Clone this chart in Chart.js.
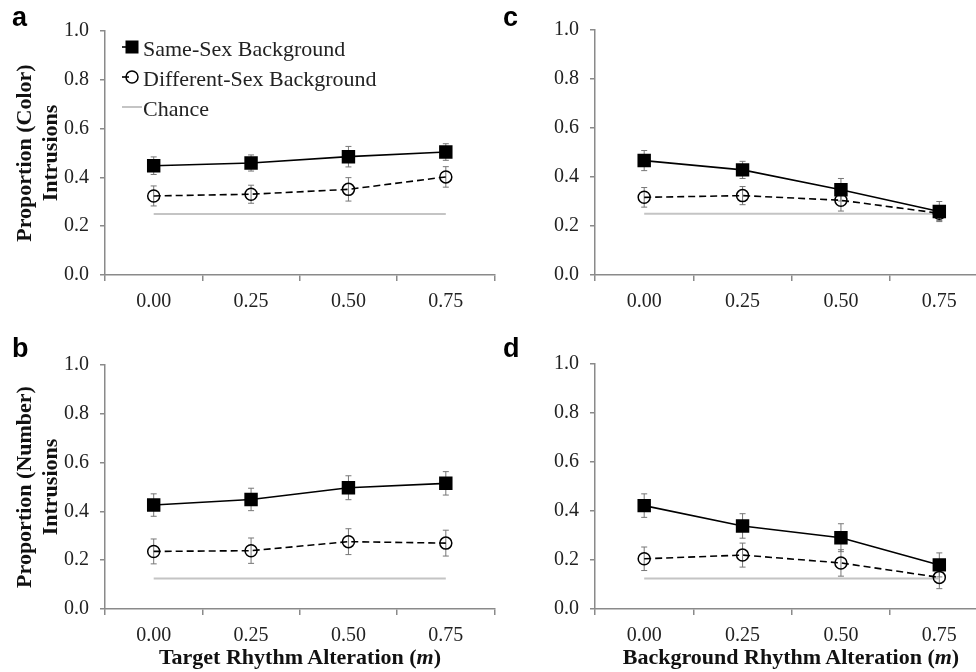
<!DOCTYPE html>
<html>
<head>
<meta charset="utf-8">
<script src="https://cdn.jsdelivr.net/npm/chart.js@4.4.1/dist/chart.umd.min.js"></script>
<style>
  html, body { margin:0; padding:0; background:#fff; }
  body { width:976px; height:672px; position:relative; overflow:hidden; }
  canvas { position:absolute; }
  .tag { position:absolute; font:bold 27px "Liberation Sans", Arial, sans-serif; line-height:27px; color:#000; }
  .xt { position:absolute; width:500px; text-align:center; font:bold 22px "Liberation Serif", "Times New Roman", serif; line-height:22px; color:#111; }
</style>
</head>
<body>
<canvas id="ca" width="504" height="320" style="left:0;top:0"></canvas>
<canvas id="cc" width="510" height="320" style="left:488px;top:0"></canvas>
<canvas id="cb" width="504" height="362" style="left:0;top:310px"></canvas>
<canvas id="cd" width="510" height="362" style="left:488px;top:310px"></canvas>

<div class="tag" style="left:12px;top:4px">a</div>
<div class="tag" style="left:12px;top:335px">b</div>
<div class="tag" style="left:503px;top:4px">c</div>
<div class="tag" style="left:503px;top:335px">d</div>
<div class="xt" style="left:50px;top:646px">Target Rhythm Alteration (<i>m</i>)</div>
<div class="xt" style="left:541px;top:646px">Background Rhythm Alteration (<i>m</i>)</div>

<script>
const categories = ["0.00", "0.25", "0.50", "0.75"];

// panel a: colour intrusions vs target rhythm
const sameA = [0.448, 0.459, 0.485, 0.504];
const sameAErr = [0.036, 0.033, 0.042, 0.034];
const diffA = [0.324, 0.331, 0.351, 0.402];
const diffAErr = [0.041, 0.037, 0.048, 0.042];
// panel c: colour intrusions vs background rhythm
const sameC = [0.467, 0.429, 0.348, 0.259];
const sameCErr = [0.041, 0.035, 0.046, 0.041];
const diffC = [0.317, 0.324, 0.305, 0.252];
const diffCErr = [0.040, 0.037, 0.044, 0.030];
// panel b: number intrusions vs target rhythm
const sameB = [0.426, 0.449, 0.497, 0.515];
const sameBErr = [0.046, 0.046, 0.049, 0.048];
const diffB = [0.236, 0.239, 0.276, 0.270];
const diffBErr = [0.051, 0.052, 0.053, 0.053];
// panel d: number intrusions vs background rhythm
const sameD = [0.422, 0.339, 0.291, 0.180];
const sameDErr = [0.048, 0.050, 0.057, 0.049];
const diffD = [0.205, 0.220, 0.188, 0.129];
const diffDErr = [0.048, 0.049, 0.054, 0.046];

const chanceColor = [0.25, 0.25, 0.25, 0.25];
const chanceNumber = [0.125, 0.125, 0.125, 0.125];

const legendLabels = ["Same-Sex Background", "Different-Sex Background", "Chance"];

const SERIF = '"Liberation Serif", "Times New Roman", serif';
const AXIS = "#8a8a8a";
const INK = "#222";

// draws the +/- error whiskers under the markers
const errorBars = {
  id: "errorBars",
  beforeDatasetsDraw(chart){
    const ctx = chart.ctx, y = chart.scales.y;
    chart.data.datasets.forEach((ds, i) => {
      if(!ds.errors) return;
      const meta = chart.getDatasetMeta(i);
      ctx.save();
      ctx.strokeStyle = "#777";
      ctx.lineWidth = 1;
      meta.data.forEach((pt, j) => {
        const v = ds.data[j], e = ds.errors[j];
        const top = y.getPixelForValue(v + e), bot = y.getPixelForValue(v - e);
        ctx.beginPath();
        ctx.moveTo(pt.x, top); ctx.lineTo(pt.x, bot);
        ctx.moveTo(pt.x - 3, top); ctx.lineTo(pt.x + 3, top);
        ctx.moveTo(pt.x - 3, bot); ctx.lineTo(pt.x + 3, bot);
        ctx.stroke();
      });
      ctx.restore();
    });
  }
};

// legend sitting inside the plot of panel a
const innerLegend = {
  id: "innerLegend",
  afterDraw(chart, args, opts){
    if(!opts.show) return;
    const ctx = chart.ctx;
    const x0 = chart.chartArea.left, y0 = chart.chartArea.top;
    chart.data.datasets.forEach((ds, i) => {
      const y = y0 + 16 + i * 30;
      ctx.save();
      ctx.strokeStyle = ds.borderColor;
      ctx.lineWidth = ds.borderWidth;
      ctx.setLineDash(ds.borderDash || []);
      ctx.beginPath();
      ctx.moveTo(x0 + 17, y);
      ctx.lineTo(x0 + (ds.pointRadius ? 27 : 37), y);
      ctx.stroke();
      ctx.setLineDash([]);
      if(ds.pointStyle === "rect"){
        ctx.fillStyle = "#000";
        ctx.fillRect(x0 + 20.5, y - 6.5, 13, 13);
      } else if(ds.pointRadius){
        ctx.lineWidth = 1.5;
        ctx.strokeStyle = "#000";
        ctx.beginPath();
        ctx.arc(x0 + 27, y, 6, 0, Math.PI * 2);
        ctx.stroke();
      }
      ctx.fillStyle = INK;
      ctx.font = "22px " + SERIF;
      ctx.textBaseline = "alphabetic";
      ctx.fillText(legendLabels[i], x0 + 38, y + 9);
      ctx.restore();
    });
  }
};

function makePanel(id, same, sameErr, diff, diffErr, chance, o){
  return new Chart(document.getElementById(id), {
    type: "line",
    data: {
      labels: categories,
      datasets: [{
        data: same, errors: sameErr,
        borderColor: "#000", borderWidth: 1.6,
        pointStyle: "rect", pointRadius: 9.5, pointBackgroundColor: "#000", pointBorderWidth: 0,
        order: 1
      },{
        data: diff, errors: diffErr,
        borderColor: "#000", borderWidth: 1.6, borderDash: [7, 4],
        pointStyle: "circle", pointRadius: 6, pointBackgroundColor: "rgba(0,0,0,0)", pointBorderWidth: 1.5,
        order: 2
      },{
        data: chance,
        borderColor: "#c4c4c4", borderWidth: 2,
        pointRadius: 0,
        order: 3
      }]
    },
    options: {
      responsive: false,
      animation: false,
      devicePixelRatio: 1,
      layout: { padding: { left: 0, right: o.right, top: o.top, bottom: 0 } },
      plugins: {
        legend: { display: false },
        tooltip: { enabled: false },
        innerLegend: { show: !!o.legend }
      },
      scales: {
        x: {
          type: "category",
          offset: true,
          grid: { offset: true, drawOnChartArea: false, drawTicks: true, tickLength: 6, color: AXIS, lineWidth: 1.5 },
          border: { color: AXIS, width: 1.5 },
          ticks: { color: INK, font: { family: SERIF, size: 20 }, padding: 9, maxRotation: 0, autoSkip: false },
          afterFit: s => { s.height = o.xh; }
        },
        y: {
          min: 0, max: 1,
          grid: { drawOnChartArea: false, drawTicks: true, tickLength: 5, color: AXIS, lineWidth: 1.5 },
          border: { color: AXIS, width: 1.5 },
          ticks: { stepSize: 0.2, color: INK, font: { family: SERIF, size: 20 }, padding: 11,
                   callback: v => v.toFixed(1) },
          title: {
            display: !!o.ytitle,
            text: o.ytitle || "",
            color: "#111",
            font: { family: SERIF, size: 22, weight: "bold", lineHeight: 1.2 },
            padding: { top: 12, bottom: 0 }
          },
          afterFit: s => { s.width = o.yw; }
        }
      }
    },
    plugins: [errorBars, innerLegend]
  });
}

makePanel("ca", sameA, sameAErr, diffA, diffAErr, chanceColor,
  { top: 31, right: 2, xh: 45, yw: 105, ytitle: ["Proportion (Color)", "Intrusions"], legend: true });
makePanel("cc", sameC, sameCErr, diffC, diffCErr, chanceColor,
  { top: 30, right: 8, xh: 45, yw: 107 });
makePanel("cb", sameB, sameBErr, diffB, diffBErr, chanceNumber,
  { top: 55, right: 2, xh: 63, yw: 105, ytitle: ["Proportion (Number)", "Intrusions"] });
makePanel("cd", sameD, sameDErr, diffD, diffDErr, chanceNumber,
  { top: 54, right: 8, xh: 63, yw: 107 });
</script>
</body>
</html>
